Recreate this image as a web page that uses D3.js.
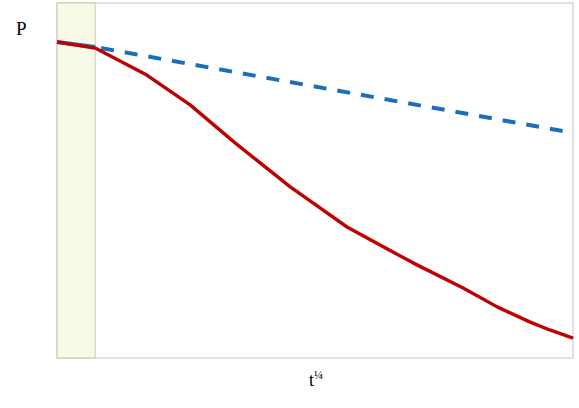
<!DOCTYPE html>
<html lang="en">
<head>
<meta charset="UTF-8">
<title>P vs t</title>
<script src="https://d3js.org/d3.v7.min.js"></script>
<style>
  body { margin: 0; background: #fff; }
  text { font-family: "Liberation Serif", "DejaVu Serif", serif; fill: #000; }
</style>
</head>
<body>
<svg id="chart" width="579" height="408"></svg>
<script>
// data (x in t^1/4 units, y in P units, both 0..10)
const bandX = [0, 0.74];
const redX = [0, 0.74, 1.74, 2.58, 3.45, 4.52, 4.96, 5.62, 6.26, 6.90, 7.87, 8.53, 9.17, 9.55, 10];
const redY = [8.90, 8.73, 7.97, 7.13, 6.06, 4.82, 4.37, 3.69, 3.18, 2.68, 1.97, 1.44, 1.01, 0.79, 0.56];
const blueX = [0, 0.74, 10];
const blueY = [8.90, 8.76, 6.34];

const svg = d3.select("#chart");
const margin = {left: 57, right: 6, top: 3, bottom: 50};
const W = 579, H = 408;

const x = d3.scaleLinear().domain([0, 10]).range([margin.left, W - margin.right]);
const y = d3.scaleLinear().domain([0, 10]).range([H - margin.bottom, margin.top]);

// frame
svg.append("rect")
  .attr("x", x(0)).attr("y", y(10))
  .attr("width", x(10) - x(0)).attr("height", y(0) - y(10))
  .attr("fill", "none").attr("stroke", "#c4c4c4").attr("stroke-width", 1);

// shaded band
svg.append("rect")
  .attr("x", x(bandX[0])).attr("y", y(10))
  .attr("width", x(bandX[1]) - x(bandX[0])).attr("height", y(0) - y(10))
  .attr("fill", "#f8f9e7").attr("stroke", "#c9c9b0").attr("stroke-width", 1);

const line = d3.line().x(d => x(d[0])).y(d => y(d[1]));
const red = redX.map((v, i) => [v, redY[i]]);
const blue = blueX.map((v, i) => [v, blueY[i]]);

// blue: solid inside band, dashed after
svg.append("path")
  .attr("d", line(blue.slice(0, 2)))
  .attr("fill", "none").attr("stroke", "#1b6fba").attr("stroke-width", 4);
svg.append("path")
  .attr("d", line(blue.slice(1)))
  .attr("fill", "none").attr("stroke", "#1b6fba").attr("stroke-width", 4)
  .attr("stroke-dasharray", "13,11").attr("stroke-dashoffset", -6);

svg.append("path")
  .attr("d", line(red))
  .attr("fill", "none").attr("stroke", "#c00000").attr("stroke-width", 3.4)
  .attr("stroke-linejoin", "round");

// labels
svg.append("text").attr("x", 16).attr("y", 35).attr("font-size", 19).text("P");
const tl = svg.append("text").attr("x", 309).attr("y", 386).attr("font-size", 18);
tl.append("tspan").text("t");
tl.append("tspan").attr("font-size", 12).attr("dy", -7).text("¼");
</script>
</body>
</html>
